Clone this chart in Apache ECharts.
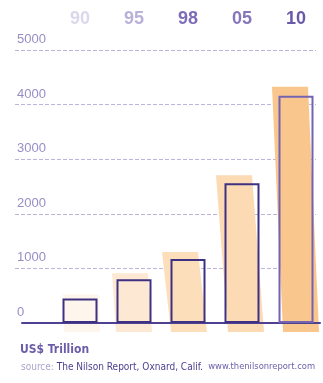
<!DOCTYPE html>
<html>
<head>
<meta charset="utf-8">
<script src="https://cdn.jsdelivr.net/npm/echarts@6/dist/echarts.min.js"></script>
<style>
    html, body { margin: 0; padding: 0; background: #fff; }
    #chart { width: 323px; height: 383px; }
</style>
</head>
<body>
<div id="chart"></div>
<script>
// data
const years = ['90', '95', '98', '05', '10'];
const volumes = [450, 800, 1170, 2560, 4160];
const yMin = 0;
const yMax = 5000;
const yStep = 1000;

// look only
const yearColors = ['#dcd8ec', '#b9b1d9', '#7d6db6', '#8677bc', '#6a59a8'];
const shadowColors = ['#fef5ec', '#fde9d3', '#fcdebb', '#fbdab4', '#f9c78e'];
const borderColors = ['#3f3182', '#3f3182', '#3f3182', '#3f3182', '#7363b1'];
const shadowLift = [4, 6, 7, 8, 9];
const topShift = [1, -4, -8, -8, -6];
const bottomShift = [2, 0, 1, 4, 5];

const chart = echarts.init(document.getElementById('chart'), null, { renderer: 'canvas' });

const sans = "'Liberation Sans', Arial, sans-serif";
const cond = "'DejaVu Sans Condensed', 'Liberation Sans', sans-serif";

const option = {
    animation: false,
    backgroundColor: '#fff',
    title: [
        {
            text: 'US$ Trillion',
            left: 20, top: 344, padding: 0,
            textStyle: { fontFamily: cond, fontSize: 12, fontWeight: 'bold', color: '#6b5ca9' }
        },
        {
            text: '{a|source: }{b|The Nilson Report, Oxnard, Calif.}{c|  www.thenilsonreport.com}',
            left: 21, top: 362, padding: 0,
            textStyle: {
                fontFamily: cond, fontSize: 10, fontWeight: 'normal',
                rich: {
                    a: { fontFamily: cond, fontSize: 10, fontWeight: 'normal', color: '#aaa4cb' },
                    b: { fontFamily: cond, fontSize: 10, fontWeight: 'normal', color: '#4d4090' },
                    c: { fontFamily: cond, fontSize: 9.3, fontWeight: 'normal', color: '#6b5ca9' }
                }
            }
        }
    ],
    grid: [
        // dashed gridlines + value labels
        { left: 15, width: 301, top: 50, bottom: 60 },
        // base line
        { left: 22, width: 298, top: 50, bottom: 60 },
        // bars
        { left: 53, width: 271, top: 50, bottom: 60 }
    ],
    xAxis: [
        { gridIndex: 0, type: 'category', data: years, show: false },
        {
            gridIndex: 1, type: 'category', data: years, z: 5,
            axisLine: { show: true, lineStyle: { color: '#4f4191', width: 2 } },
            axisTick: { show: false }, axisLabel: { show: false }
        },
        {
            gridIndex: 2, type: 'category', data: years, position: 'top',
            axisLine: { show: false }, axisTick: { show: false },
            axisLabel: {
                margin: 22,
                fontFamily: sans, fontSize: 18, fontWeight: 'bold',
                color: function (val, idx) { return yearColors[idx]; }
            }
        }
    ],
    yAxis: [
        {
            gridIndex: 0, type: 'value', min: yMin, max: yMax, interval: yStep,
            axisLine: { show: false }, axisTick: { show: false },
            axisLabel: {
                inside: true, margin: 2, verticalAlign: 'bottom', padding: [0, 0, 4, 0],
                fontFamily: sans, fontSize: 13, color: '#968ec6',
                formatter: function (v) { return String(v); }
            },
            splitLine: {
                show: true, showMinLine: false,
                lineStyle: { color: '#bcb5da', type: [4, 2], width: 1 }
            }
        },
        { gridIndex: 1, type: 'value', min: yMin, max: yMax, interval: yStep, show: false, splitLine: { show: false } },
        { gridIndex: 2, type: 'value', min: yMin, max: yMax, interval: yStep, show: false, splitLine: { show: false } }
    ],
    series: [
        {
            // slanted shade behind each bar
            type: 'custom',
            xAxisIndex: 2, yAxisIndex: 2, z: 1,
            data: volumes.map((v, i) => [i, v]),
            renderItem: function (params, api) {
                const i = api.value(0);
                const top = api.coord([i, api.value(1)]);
                const base = api.coord([i, 0]);
                const w = 36;
                const y0 = top[1] - shadowLift[i];
                const y1 = base[1] + 9;
                const ct = top[0] + topShift[i];
                const cb = top[0] + bottomShift[i];
                return {
                    type: 'polygon',
                    shape: { points: [[ct - w / 2, y0], [ct + w / 2, y0], [cb + w / 2, y1], [cb - w / 2, y1]] },
                    style: { fill: shadowColors[i] }
                };
            }
        },
        {
            type: 'bar',
            xAxisIndex: 2, yAxisIndex: 2, z: 6,
            barWidth: 35,
            data: volumes.map((v, i) => ({
                value: v,
                itemStyle: { color: 'rgba(0,0,0,0)', borderColor: borderColors[i], borderWidth: 2 }
            }))
        }
    ]
};

chart.setOption(option);
</script>
</body>
</html>
